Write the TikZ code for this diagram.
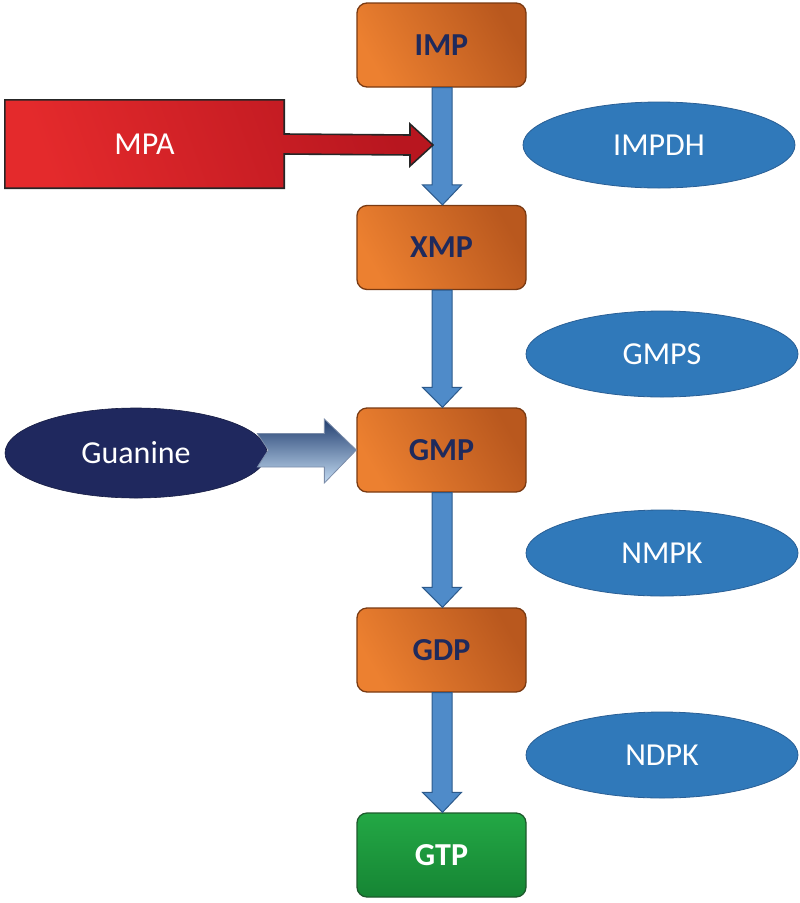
\documentclass[tikz,border=0pt]{standalone}
\usepackage{fontspec}
\setmainfont{Carlito}
\usetikzlibrary{shapes.geometric,calc}
\definecolor{orA}{HTML}{EC8030}
\definecolor{orB}{HTML}{B9581E}
\definecolor{orLine}{HTML}{7A3A12}
\definecolor{navyT}{HTML}{1F2A5C}
\definecolor{ellIn}{HTML}{3079BA}
\definecolor{ellOut}{HTML}{1E5690}
\definecolor{ellLine}{HTML}{2A5F95}
\definecolor{guaF}{HTML}{1F285E}
\definecolor{shaftF}{HTML}{4F8BC9}
\definecolor{shaftL}{HTML}{2C5A8C}
\definecolor{redA}{HTML}{E42A2C}
\definecolor{redB}{HTML}{B8161F}
\definecolor{grA}{HTML}{23A845}
\definecolor{grB}{HTML}{168534}
\definecolor{grLine}{HTML}{1D5A2C}
\definecolor{arrTop}{HTML}{233F70}
\definecolor{arrBot}{HTML}{C3DBF2}
\pgfdeclareradialshading{ellrim}{\pgfpoint{0bp}{0bp}}{color(0bp)=(ellIn); color(40bp)=(ellIn); color(50bp)=(ellOut)}
\tikzset{
  mol/.style={rectangle, rounded corners=10pt, draw=orLine, line width=1.3pt,
    minimum width=169pt, minimum height=84pt, inner sep=0pt,
    top color=orB, bottom color=orA, shading angle=-60,
    font=\fontsize{32}{38}\selectfont\bfseries, text=navyT},
  final/.style={mol, draw=grLine, top color=grA, bottom color=grB, shading angle=0, text=white},
  enz/.style={ellipse, draw=ellLine, line width=0.8pt, shading=ellrim,
    minimum width=272pt, minimum height=86pt, inner sep=0pt,
    font=\fontsize{32}{38}\selectfont, text=white},
  shaft/.style={draw=shaftL, line width=1pt, fill=shaftF},
}
\begin{document}
\begin{tikzpicture}[x=1pt,y=-1pt]
\useasboundingbox (0,0) rectangle (800,903);
% molecules
\node[mol] (imp) at (441.5,45) {IMP};
\node[mol] (xmp) at (441.5,247.5) {XMP};
\node[mol] (gmp) at (441.5,450) {GMP};
\node[mol] (gdp) at (441.5,650) {GDP};
\node[final] (gtp) at (441.5,855) {GTP};
% enzymes
\node[enz] (impdh) at (659,145) {IMPDH};
\node[enz] (gmps) at (662,354) {GMPS};
\node[enz] (nmpk) at (662,553) {NMPK};
\node[enz] (ndpk) at (662,755) {NDPK};
% vertical connectors
\foreach \a/\b in {imp/xmp, xmp/gmp, gmp/gdp, gdp/gtp}{
  \draw[shaft] ($(\a.south)+(-9.5,0)$) -- ($(\b.north)+(-9.5,-20)$) -- ($(\b.north)+(-19,-20)$)
    -- ($(\b.north)+(1,0)$) -- ($(\b.north)+(20,-20)$) -- ($(\b.north)+(10.5,-20)$)
    -- ($(\a.south)+(10.5,0)$) -- cycle;
}
% MPA inhibitor
\node[rectangle, minimum width=279pt, minimum height=88pt, inner sep=0pt] (mpa) at (144.5,144) {};
\coordinate (mpatip) at (433,145);
\draw[line width=1.6pt, draw=black!85, top color=redB, bottom color=redA, shading angle=-70]
  (mpa.north west) -- (mpa.north east) -- ($(mpa.east)+(0,-10)$) -- ($(mpatip)+(-23,-10)$)
  -- ($(mpatip)+(-23,-21)$) -- (mpatip) -- ($(mpatip)+(-23,21)$) -- ($(mpatip)+(-23,10)$)
  -- ($(mpa.east)+(0,10)$) -- (mpa.south east) -- (mpa.south west) -- cycle;
\node[font=\fontsize{32}{38}\selectfont, text=white] at (mpa.center) {MPA};
% Guanine
\node[ellipse, fill=guaF, draw=guaF!70!black, line width=0.6pt, minimum width=262pt, minimum height=90pt,
  inner sep=0pt, font=\fontsize{32}{38}\selectfont, text=white] (gua) at (136,453) {Guanine};
\draw[draw=arrTop!60!white, line width=0.8pt, top color=arrTop, bottom color=arrBot]
  ($(gmp.west)+(-99,-16.5)$) -- ($(gmp.west)+(-32,-16.5)$) -- ($(gmp.west)+(-32,-31)$)
  -- (gmp.west) -- ($(gmp.west)+(-32,33)$) -- ($(gmp.west)+(-32,17)$)
  -- ($(gmp.west)+(-99,17)$) -- ($(gmp.west)+(-88,0)$) -- cycle;
\end{tikzpicture}
\end{document}
